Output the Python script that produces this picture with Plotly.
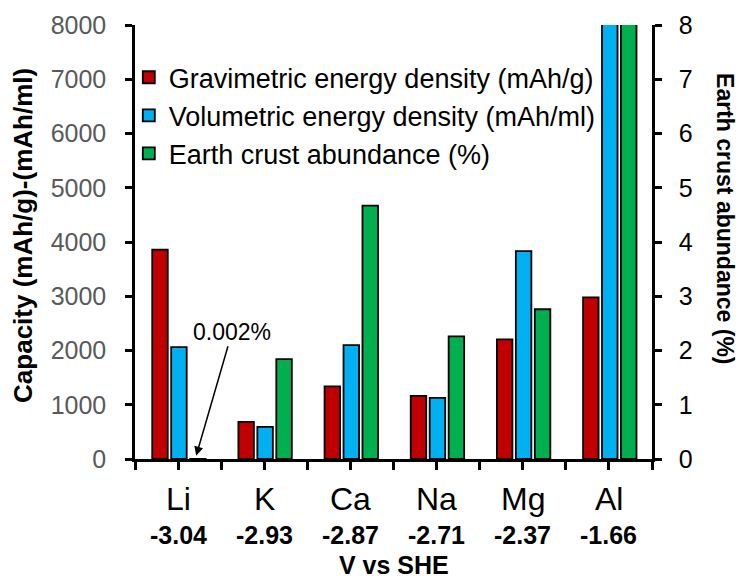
import plotly.graph_objects as go

elements = ["Li", "K", "Ca", "Na", "Mg", "Al"]
potentials = ["-3.04", "-2.93", "-2.87", "-2.71", "-2.37", "-1.66"]
gravimetric = [3860, 685, 1340, 1165, 2205, 2980]
volumetric = [2062, 591, 2100, 1128, 3833, 8046]
abundance = [0.002, 1.84, 4.67, 2.26, 2.76, 8.23]

xs = list(range(len(elements)))
FONT = "Liberation Sans, Arial, sans-serif"
W = 0.18

fig = go.Figure()
fig.add_trace(go.Bar(x=xs, y=gravimetric, name="Gravimetric energy density (mAh/g)",
                     marker=dict(color="#C00000", line=dict(color="black", width=1.8)),
                     width=W, offset=-0.30))
fig.add_trace(go.Bar(x=xs, y=volumetric, name="Volumetric energy density (mAh/ml)",
                     marker=dict(color="#00B0F0", line=dict(color="black", width=1.8)),
                     width=W, offset=-0.08))
fig.add_trace(go.Bar(x=xs, y=abundance, name="Earth crust abundance (%)", yaxis="y2",
                     marker=dict(color="#00B050", line=dict(color="black", width=1.8)),
                     width=W, offset=0.14))

tickvals = [i - 0.5 for i in range(len(elements) + 1)] + xs

fig.update_layout(
    width=741, height=580,
    margin=dict(l=135, r=89, t=25, b=121),
    paper_bgcolor="white", plot_bgcolor="white",
    barmode="overlay",
    font=dict(family=FONT, color="black"),
    showlegend=True,
    legend=dict(x=-0.012, y=0.935, xanchor="left", yanchor="top",
                bgcolor="rgba(0,0,0,0)", font=dict(size=27, color="black"),
                traceorder="normal"),
    xaxis=dict(range=[-0.5, 5.5], tickmode="array", tickvals=tickvals,
               showticklabels=False,
               showline=True, linecolor="black", linewidth=2.5, ticks="outside",
               ticklen=8, tickwidth=2.5, tickcolor="black", showgrid=False, zeroline=False),
    yaxis=dict(range=[0, 8000], tickvals=list(range(0, 8001, 1000)),
               showline=True, linecolor="black", linewidth=2.5, ticks="outside",
               ticklen=7, tickwidth=2.5, tickcolor="black", showgrid=False, zeroline=False,
               tickfont=dict(size=25, color="#595959"), ticklabelstandoff=14),
    yaxis2=dict(range=[0, 8], tickvals=list(range(0, 9)), overlaying="y", side="right",
                showline=True, linecolor="black", linewidth=2.5, ticks="outside",
                ticklen=7, tickwidth=2.5, tickcolor="black", showgrid=False, zeroline=False,
                tickfont=dict(size=25, color="black"), ticklabelstandoff=12),
)

annotations = []
for i, (e, p) in enumerate(zip(elements, potentials)):
    annotations.append(dict(x=i, y=-0.092, xref="x", yref="paper", text=e,
                            showarrow=False, font=dict(size=32, color="black"),
                            xanchor="center", yanchor="middle"))
    annotations.append(dict(x=i, y=-0.175, xref="x", yref="paper", text="<b>" + p + "</b>",
                            showarrow=False, font=dict(size=25, color="black"),
                            xanchor="center", yanchor="middle"))
annotations.append(dict(x=0.501, y=-0.244, xref="paper", yref="paper", text="<b>V vs SHE</b>",
                        showarrow=False, font=dict(size=25, color="black"),
                        xanchor="center", yanchor="middle"))
annotations.append(dict(x=-0.2166, y=0.514, xref="paper", yref="paper",
                        text="<b>Capacity (mAh/g)-(mAh/ml)</b>", textangle=-90,
                        showarrow=False, font=dict(size=26, color="black"),
                        xanchor="center", yanchor="middle"))
annotations.append(dict(x=1.141, y=0.553, xref="paper", yref="paper",
                        text="<b>Earth crust abundance (%)</b>", textangle=90,
                        showarrow=False, font=dict(size=23, color="black"),
                        xanchor="center", yanchor="middle"))
annotations.append(dict(x=0.21, y=60, xref="x", yref="y", text="0.002%",
                        showarrow=True, ax=36, ay=-124, arrowhead=2, arrowsize=1.2,
                        arrowwidth=1.5, arrowcolor="black",
                        font=dict(size=23, color="black")))
fig.update_layout(annotations=annotations)

fig.write_html("out.html")
